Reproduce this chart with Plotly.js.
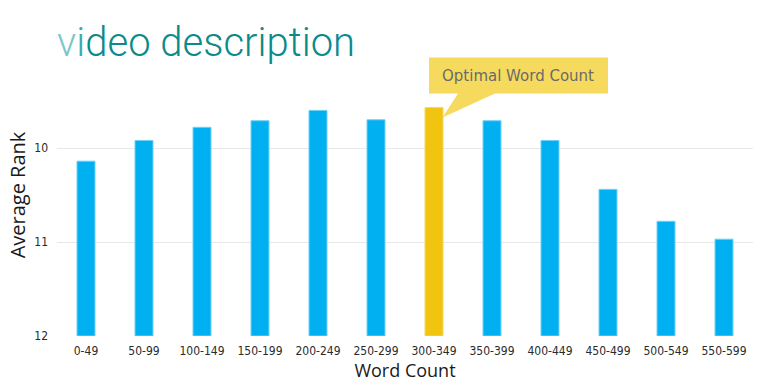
<!DOCTYPE html>
<html>
<head>
<meta charset="utf-8">
<script src="https://cdn.plot.ly/plotly-3.0.1.min.js"></script>
<style>
html,body{margin:0;padding:0;background:#fff;}
#chart{width:768px;height:392px;}
</style>
</head>
<body>
<div id="chart"></div>
<script>
const categories = ['0-49','50-99','100-149','150-199','200-249','250-299','300-349','350-399','400-449','450-499','500-549','550-599'];
const avgRank = [10.14, 9.92, 9.78, 9.71, 9.60, 9.70, 9.57, 9.71, 9.92, 10.44, 10.78, 10.97];
const highlightCategory = '300-349';
const calloutText = 'Optimal Word Count';
const baseRank = 12;
const yTickVals = [9, 10, 11, 12];
const yTickText = ['', '10', '11', '12'];

const blue = '#00b0f0', gold = '#f1c40f';
const barColors = categories.map(c => c === highlightCategory ? gold : blue);
const lineColors = categories.map(c => c === highlightCategory ? '#f6d75a' : '#6fd0f6');
const hi = categories.indexOf(highlightCategory);

const trace = {
  type: 'bar',
  x: categories,
  y: avgRank.map(v => v - baseRank),
  base: baseRank,
  marker: {color: barColors, line: {color: lineColors, width: 1}},
  hoverinfo: 'skip'
};

const tickFont = {family: '"DejaVu Sans Condensed", "DejaVu Sans", sans-serif', size: 12, color: '#2a2a2a'};

const layout = {
  width: 768, height: 392,
  margin: {l: 57, r: 15, t: 54, b: 56},
  paper_bgcolor: '#fff', plot_bgcolor: '#fff',
  showlegend: false,
  bargap: 0.69,
  title: {
    text: '<span style="color:#7cc7c8">v</span><span style="color:#3fa9aa">i</span>deo description',
    font: {family: 'Roboto, sans-serif', size: 40, weight: 300, color: '#0b8a8c'},
    x: 57/768, xref: 'container', xanchor: 'left',
    y: 1 - 42/392, yref: 'container', yanchor: 'middle'
  },
  xaxis: {
    type: 'category',
    tickfont: tickFont,
    ticks: '', showgrid: false, showline: false, zeroline: false,
    ticklabelstandoff: 6,
    title: {text: 'Word Count', font: {family: '"Open Sans", sans-serif', size: 18, color: '#1a1a1a'}, standoff: 6}
  },
  yaxis: {
    range: [12, 9],
    tickvals: yTickVals, ticktext: yTickText,
    tickfont: tickFont,
    ticks: '', showline: false, zeroline: false,
    gridcolor: '#e8e8e8', gridwidth: 1,
    ticklabelstandoff: 8,
    title: {text: 'Average Rank', font: {family: '"Open Sans", sans-serif', size: 20, color: '#1a1a1a'}, standoff: 3}
  },
  shapes: [{
    type: 'path',
    xref: 'x', yref: 'y',
    xsizemode: 'pixel', ysizemode: 'pixel',
    xanchor: hi, yanchor: avgRank[hi],
    path: 'M -5 50 L 174 50 L 174 14 L 61 14 L 8.5 -10 L 24 14 L -5 14 Z',
    fillcolor: '#f6da5e',
    line: {width: 0},
    layer: 'above'
  }],
  annotations: [{
    x: hi, y: avgRank[hi], xref: 'x', yref: 'y',
    text: calloutText, showarrow: false,
    xanchor: 'center', yanchor: 'middle',
    xshift: 83.5, yshift: 32,
    font: {family: '"DejaVu Sans", sans-serif', size: 15, color: '#6a6a6a'}
  }]
};

Plotly.newPlot('chart', [trace], layout, {displayModeBar: false, staticPlot: true});
</script>
</body>
</html>
